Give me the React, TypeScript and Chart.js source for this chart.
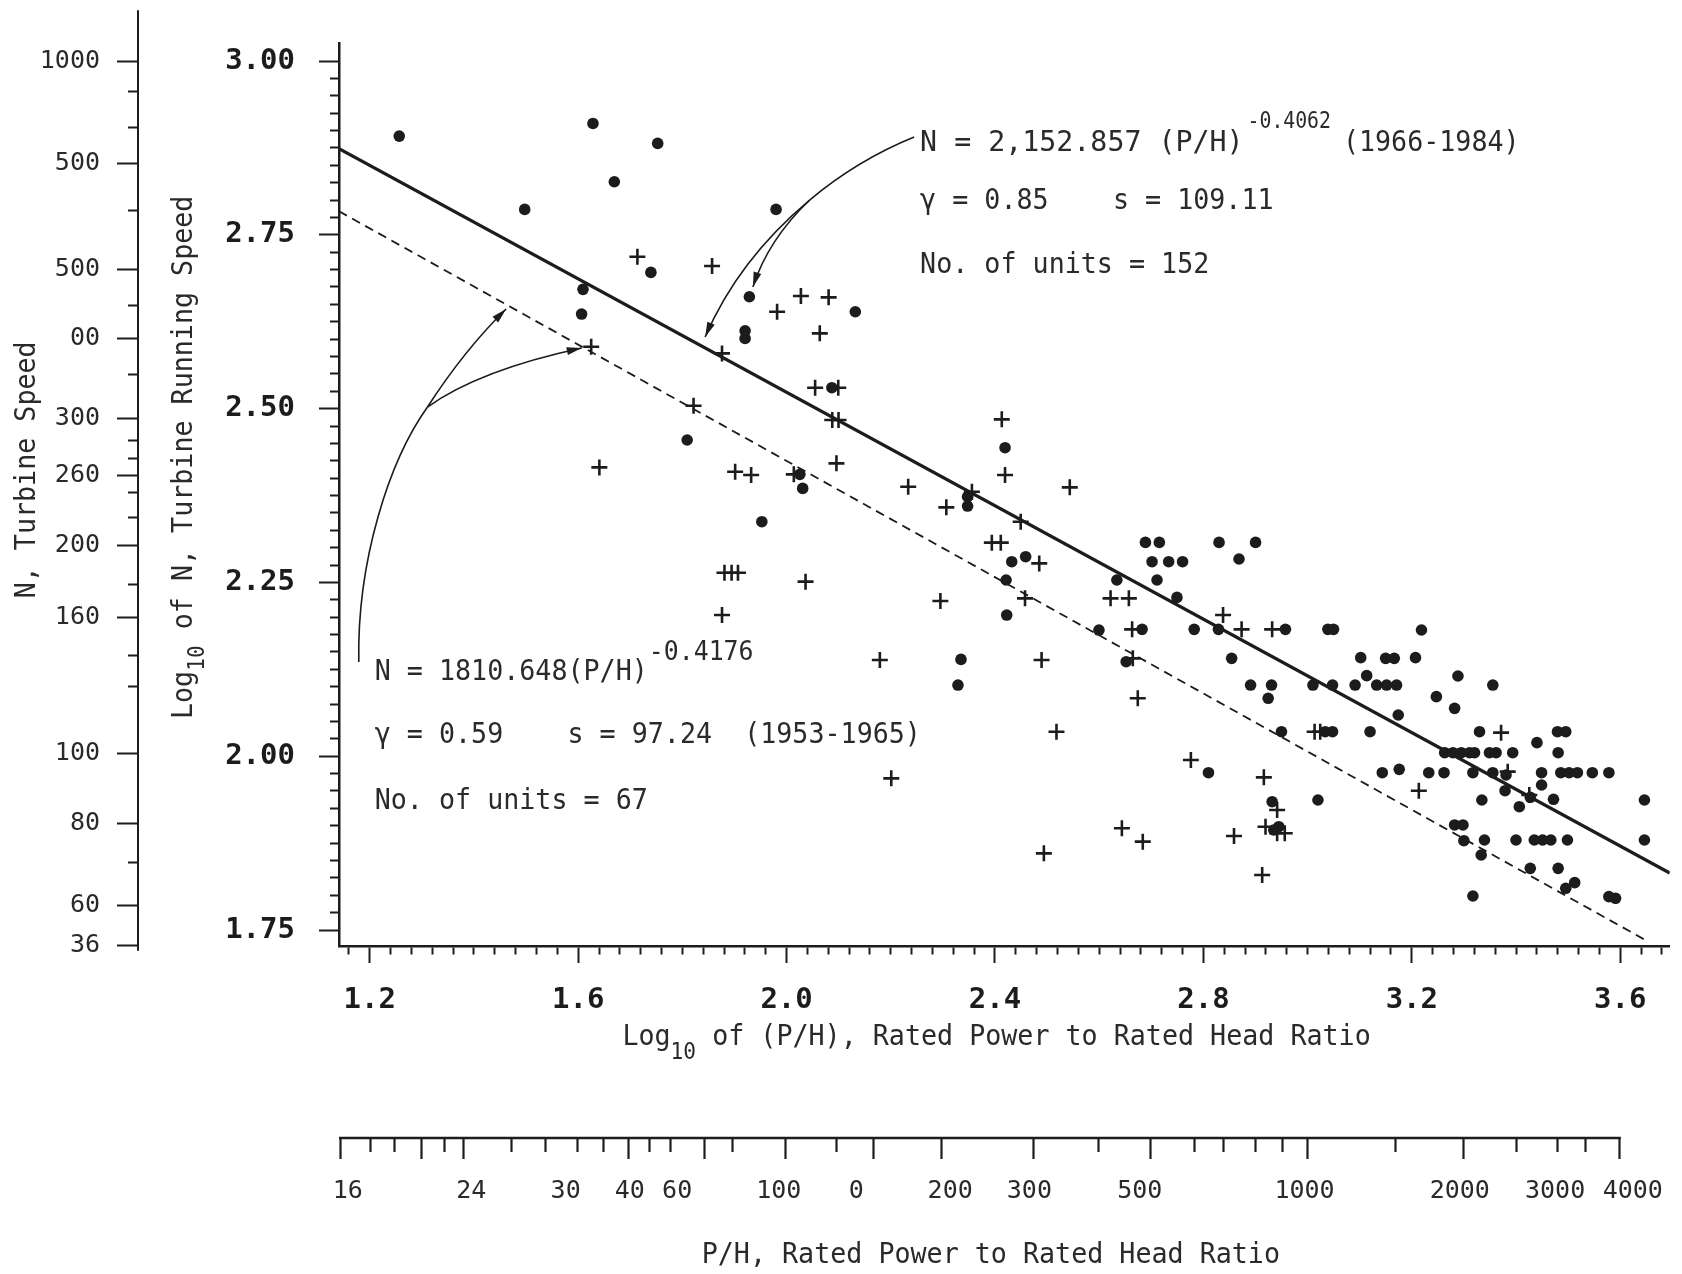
import React, { useEffect, useRef } from 'react';
import { Chart, registerables } from 'chart.js';

Chart.register(...registerables);

// ---------------- data (log10 P/H , log10 N) ----------------
const units1966: [number, number][] = [
  [1.2566, 2.8921], [1.6284, 2.9103], [1.7526, 2.8816], [1.6694, 2.8264], [1.4974, 2.7866],
  [1.9798, 2.7866], [1.7396, 2.6960], [1.6093, 2.6716], [1.6066, 2.6361], [1.9286, 2.6610],
  [1.9204, 2.6120], [1.9204, 2.6010], [2.1319, 2.6394], [2.0869, 2.5301], [1.8092, 2.4549],
  [2.0255, 2.4055], [2.0309, 2.3853], [1.9525, 2.3374],
  [2.4193, 2.4438], [2.3474, 2.3733], [2.3474, 2.3599], [2.4321, 2.2798], [2.4588, 2.2870],
  [2.4213, 2.2535], [2.4225, 2.2031], [2.3347, 2.1393], [2.3289, 2.1024], [2.6339, 2.2535],
  [2.5995, 2.1815], [2.6823, 2.1825], [2.6887, 2.3076], [2.7154, 2.3076], [2.7014, 2.2798],
  [2.7333, 2.2798], [2.7600, 2.2798], [2.7110, 2.2535], [2.7492, 2.2285], [2.8300, 2.3076],
  [2.9001, 2.3076], [2.8683, 2.2837], [2.7823, 2.1825], [2.8288, 2.1825], [2.9574, 2.1825],
  [2.8542, 2.1408], [2.8905, 2.1024], [2.9307, 2.1024], [2.9243, 2.0833], [2.9498, 2.0353],
  [2.8097, 1.9763], [2.9319, 1.9346], [2.9351, 1.8939], [2.9447, 1.8986], [3.0198, 1.9370],
  [3.0102, 2.1024], [3.0478, 2.1024], [3.0338, 2.0353], [3.0478, 2.0353], [3.0389, 2.1825],
  [3.0497, 2.1825], [2.6518, 2.1360],
  [3.2185, 2.1816], [3.1019, 2.1418], [3.1497, 2.1408], [3.1663, 2.1408], [3.2070, 2.1418],
  [3.0911, 2.1024], [3.1134, 2.1159], [3.1325, 2.1024], [3.1516, 2.1024], [3.1707, 2.1024],
  [3.2885, 2.1154], [3.3554, 2.1024], [3.2471, 2.0857], [3.2821, 2.0689], [3.1739, 2.0593],
  [3.1198, 2.0353], [3.3299, 2.0353], [3.4401, 2.0195], [3.4795, 2.0353], [3.4954, 2.0353],
  [3.4808, 2.0051], [3.2630, 2.0051], [3.2789, 2.0051], [3.2949, 2.0051], [3.3108, 2.0051],
  [3.3203, 2.0051], [3.3490, 2.0051], [3.3617, 2.0051], [3.3936, 2.0051], [3.1433, 1.9763],
  [3.1758, 1.9811], [3.2325, 1.9763], [3.2618, 1.9763], [3.3172, 1.9763], [3.3554, 1.9763],
  [3.3808, 1.9730], [3.4490, 1.9763], [3.4859, 1.9763], [3.5018, 1.9763], [3.5177, 1.9763],
  [3.5464, 1.9763], [3.5782, 1.9763], [3.4490, 1.9586], [3.3789, 1.9504], [3.4273, 1.9409],
  [3.3344, 1.9370], [3.4063, 1.9274], [3.4719, 1.9380], [3.6464, 1.9370], [3.6464, 1.8795],
  [3.2821, 1.9011], [3.2981, 1.9011], [3.2999, 1.8785], [3.3394, 1.8795], [3.3331, 1.8579],
  [3.3999, 1.8795], [3.4350, 1.8795], [3.4509, 1.8795], [3.4668, 1.8795], [3.4986, 1.8795],
  [3.4273, 1.8387], [3.4808, 1.8387], [3.5126, 1.8181], [3.4954, 1.8100], [3.3172, 1.7989],
  [3.5782, 1.7980], [3.5910, 1.7956],
];

const units1953: [number, number][] = [
  [1.7137, 2.7186], [1.8570, 2.7051], [2.0275, 2.6620], [2.0807, 2.6601], [1.9818, 2.6394],
  [2.0637, 2.6083], [1.6250, 2.5891], [1.8761, 2.5795], [2.0548, 2.5301], [2.0992, 2.5301],
  [1.8215, 2.5042], [2.0877, 2.4836], [2.0997, 2.4836],
  [2.0957, 2.4213], [1.6407, 2.4155], [1.9013, 2.4093], [1.9320, 2.4045], [2.0139, 2.4055],
  [1.8808, 2.2640], [1.8945, 2.2640], [1.9067, 2.2640], [2.0364, 2.2511], [1.8761, 2.2031],
  [2.1790, 2.1384],
  [2.4130, 2.4846], [2.4193, 2.4045], [2.5435, 2.3868], [2.2334, 2.3877], [2.3066, 2.3580],
  [2.3557, 2.3805], [2.4493, 2.3374], [2.3939, 2.3072], [2.4111, 2.3072], [2.4849, 2.2774],
  [2.2952, 2.2233], [2.4576, 2.2271], [2.6218, 2.2271], [2.6569, 2.2271], [2.8377, 2.2031],
  [2.8733, 2.1825], [2.9319, 2.1825], [2.6632, 2.1825], [2.4894, 2.1384], [2.6645, 2.1408],
  [2.6740, 2.0833], [2.5180, 2.0353], [2.7759, 1.9945], [2.2009, 1.9682], [2.9160, 1.9696],
  [2.9415, 1.9226], [2.9192, 1.8986], [2.9415, 1.8891], [2.9561, 1.8891], [2.6435, 1.8963],
  [2.6836, 1.8771], [2.8587, 1.8852], [2.4938, 1.8603], [2.9128, 1.8291], [3.0134, 2.0353],
  [3.0242, 2.0353],
  [3.3713, 2.0339], [3.3840, 1.9778], [3.2134, 1.9504], [3.4254, 1.9442],
];

// regression lines as drawn (end points)
const fit1966: [number, number][] = [[1.141, 2.874], [3.695, 1.832]];
const fit1953: [number, number][] = [[1.141, 2.784], [3.652, 1.734]];

// ---------------- axes ----------------
const X_MIN = 1.141, X_MAX = 3.695;
const Y_MIN = 1.727, Y_MAX = 3.026;
const xTickLabels = ['1.2', '1.6', '2.0', '2.4', '2.8', '3.2', '3.6'];
const yTickLabels = ['1.75', '2.00', '2.25', '2.50', '2.75', '3.00'];

// left "N, Turbine Speed" auxiliary axis (positions in log10 N)
const nAxisLabels = ['1000', '500', '500', '00', '300', '260', '200', '160', '100', '80', '60', '36'];
const nAxisLabelPos = [3.0, 2.8533, 2.7008, 2.6016, 2.4865, 2.4045, 2.3038, 2.2002, 2.0046, 1.9039, 1.7846, 1.7275];
const nAxisMinorPos = [2.9568, 2.9051, 2.7857, 2.649, 2.5498, 2.4548, 2.429, 2.38, 2.3441, 2.2477, 2.1456, 2.0996, 1.8478];
const nAxisSpan = [3.073, 1.72];

// bottom "P/H" auxiliary axis (positions in log10 P/H)
const phLabels = ['16', '24', '30', '40', '60', '100', '0', '200', '300', '500', '1000', '2000', '3000', '4000'];
const phLabelPos = [1.158, 1.395, 1.576, 1.699, 1.79, 1.985, 2.134, 2.314, 2.466, 2.678, 2.994, 3.292, 3.475, 3.624];
const phLongTickPos = [1.143, 1.299, 1.38, 1.697, 1.842, 1.998, 2.167, 2.298, 2.474, 2.698, 3.0, 3.299, 3.599];
const phMidTickPos = [1.202, 1.248, 1.343, 1.473, 1.538, 1.599, 1.649, 1.737, 1.777, 1.897, 2.096, 2.598, 2.782, 2.839, 2.9, 2.952, 3.168, 3.401, 3.479, 3.534];

// ---------------- annotations ----------------
const eq1966Anchor = [2.2563, 2.8821, 2.7986, 2.7066];
const eq1953Anchor = [1.2096, 2.1211, 2.0305, 1.9356];
const arrow1966Trunk = [[2.2449, 2.8907], [2.136, 2.8576], [2.0443, 2.8001]];
const arrow1966Heads = [
  [[2.0443, 2.8001], [1.9068, 2.7138], [1.8437, 2.603]],
  [[2.0443, 2.8001], [1.9641, 2.7425], [1.9354, 2.6749]],
];
const arrow1953Trunk = [[1.179, 2.1355], [1.1752, 2.2822], [1.2382, 2.4261], [1.3108, 2.5023]];
const arrow1953Heads = [
  [[1.3108, 2.5023], [1.3815, 2.5843], [1.4617, 2.6433]],
  [[1.3108, 2.5023], [1.4101, 2.5555], [1.6069, 2.5872]],
];

const INK = '#1c1c1c';
const TXT = '#2a2a2a';
const MONO = '"DejaVu Sans Mono", "Liberation Mono", monospace';
const SX = 0.92;

function subdivided(labels: string[], n: number, before: number, after: number) {
  const majors = labels.map(Number);
  const step = (majors[1] - majors[0]) / n;
  const out: any[] = [];
  for (let k = before; k >= 1; k--) out.push({ value: majors[0] - k * step, lbl: '', major: false });
  for (let i = 0; i < majors.length; i++) {
    out.push({ value: majors[i], lbl: labels[i], major: true });
    if (i < majors.length - 1) {
      for (let k = 1; k < n; k++) out.push({ value: majors[i] + k * step, lbl: '', major: false });
    }
  }
  for (let k = 1; k <= after; k++) out.push({ value: majors[majors.length - 1] + k * step, lbl: '', major: false });
  return out;
}

function nTicks() {
  const out: any[] = nAxisLabelPos.map((v, i) => ({ value: v, lbl: nAxisLabels[i] }));
  nAxisMinorPos.forEach((v) => out.push({ value: v, lbl: '' }));
  return out;
}

function phTicks() {
  const out: any[] = [];
  phLongTickPos.forEach((v) => out.push({ value: v, lbl: '', kind: 'long' }));
  phMidTickPos.forEach((v) => out.push({ value: v, lbl: '', kind: 'mid' }));
  phLabelPos.forEach((v, i) => out.push({ value: v, lbl: phLabels[i], kind: 'label' }));
  return out;
}

type Part = { t: string; size?: number; dy?: number; gap?: number; sx?: number };

function rich(ctx: CanvasRenderingContext2D, parts: Part[], px: number, py: number, align: string, rot: number) {
  ctx.save();
  ctx.fillStyle = TXT;
  ctx.textBaseline = 'middle';
  ctx.textAlign = 'left';
  const widths = parts.map((p) => {
    ctx.font = `${p.size || 29}px ${MONO}`;
    return ctx.measureText(p.t).width * (p.sx || SX) + (p.gap || 0);
  });
  const total = widths.reduce((a, b) => a + b, 0);
  ctx.translate(px, py);
  if (rot) ctx.rotate(rot);
  let x = align === 'center' ? -total / 2 : 0;
  parts.forEach((p, i) => {
    ctx.font = `${p.size || 29}px ${MONO}`;
    ctx.save();
    ctx.translate(x + (p.gap || 0), p.dy || 0);
    ctx.scale(p.sx || SX, 1);
    ctx.fillText(p.t, 0, 0);
    ctx.restore();
    x += widths[i];
  });
  ctx.restore();
}

const decorations = {
  id: 'decorations',
  afterDraw(chart: any) {
    const ctx: CanvasRenderingContext2D = chart.ctx;
    const xs = chart.scales.x, ys = chart.scales.y, yN = chart.scales.yN, ph = chart.scales.xPH;
    const P = (p: number[]) => [xs.getPixelForValue(p[0]), ys.getPixelForValue(p[1])];

    ctx.save();
    ctx.setLineDash([]);
    ctx.strokeStyle = INK;
    ctx.fillStyle = INK;
    // auxiliary axis lines
    ctx.lineWidth = 2.5;
    ctx.beginPath();
    ctx.moveTo(ph.getPixelForValue(phLongTickPos[0]) - 1, ph.top + 1);
    ctx.lineTo(ph.getPixelForValue(phLongTickPos[phLongTickPos.length - 1]) + 1, ph.top + 1);
    ctx.stroke();
    ctx.lineWidth = 2;
    ctx.beginPath();
    ctx.moveTo(yN.right - 1, ys.getPixelForValue(nAxisSpan[0]));
    ctx.lineTo(yN.right - 1, ys.getPixelForValue(nAxisSpan[1]));
    ctx.stroke();

    // arrows
    const head = (from: number[], tip: number[]) => {
      const a = Math.atan2(tip[1] - from[1], tip[0] - from[0]);
      const L = 15, W = 4;
      const c = Math.cos(a), s = Math.sin(a);
      ctx.beginPath();
      ctx.moveTo(tip[0], tip[1]);
      ctx.lineTo(tip[0] - L * c + W * s, tip[1] - L * s - W * c);
      ctx.lineTo(tip[0] - L * c - W * s, tip[1] - L * s + W * c);
      ctx.closePath();
      ctx.fill();
    };
    const arrow = (trunk: number[][], heads: number[][][]) => {
      ctx.lineWidth = 1.6;
      const t = trunk.map(P);
      ctx.beginPath();
      ctx.moveTo(t[0][0], t[0][1]);
      if (t.length === 3) ctx.quadraticCurveTo(t[1][0], t[1][1], t[2][0], t[2][1]);
      else ctx.bezierCurveTo(t[1][0], t[1][1], t[2][0], t[2][1], t[3][0], t[3][1]);
      ctx.stroke();
      heads.forEach((h) => {
        const q = h.map(P);
        ctx.beginPath();
        ctx.moveTo(q[0][0], q[0][1]);
        ctx.quadraticCurveTo(q[1][0], q[1][1], q[2][0], q[2][1]);
        ctx.stroke();
        head(q[1], q[2]);
      });
    };
    arrow(arrow1966Trunk, arrow1966Heads);
    arrow(arrow1953Trunk, arrow1953Heads);
    ctx.restore();

    // equation blocks
    const a1 = eq1966Anchor;
    const x1 = xs.getPixelForValue(a1[0]);
    rich(ctx, [
      { t: 'N = 2,152.857 (P/H)', sx: 0.975 },
      { t: '-0.4062', size: 23, sx: 0.86, dy: -21, gap: 4 },
      { t: '(1966-1984)', gap: 12 },
    ], x1, ys.getPixelForValue(a1[1]), 'left', 0);
    rich(ctx, [{ t: 'γ = 0.85    s = 109.11' }], x1, ys.getPixelForValue(a1[2]), 'left', 0);
    rich(ctx, [{ t: 'No. of units = 152' }], x1, ys.getPixelForValue(a1[3]), 'left', 0);

    const a2 = eq1953Anchor;
    const x2 = xs.getPixelForValue(a2[0]);
    rich(ctx, [{ t: 'N = 1810.648(P/H)' }, { t: '-0.4176', size: 27, dy: -19, gap: 1 }], x2, ys.getPixelForValue(a2[1]), 'left', 0);
    rich(ctx, [{ t: 'γ = 0.59    s = 97.24  (1953-1965)' }], x2, ys.getPixelForValue(a2[2]), 'left', 0);
    rich(ctx, [{ t: 'No. of units = 67' }], x2, ys.getPixelForValue(a2[3]), 'left', 0);

    // axis titles
    rich(ctx, [{ t: 'N, Turbine Speed' }], yN.left + 27, ys.getPixelForValue(2.412), 'center', -Math.PI / 2);
    rich(ctx, [{ t: 'Log' }, { t: '10', size: 23, dy: 14 }, { t: ' of N, Turbine Running Speed' }], ys.left + 45, ys.getPixelForValue(2.43), 'center', -Math.PI / 2);
    rich(ctx, [{ t: 'Log' }, { t: '10', size: 23, dy: 16 }, { t: ' of (P/H), Rated Power to Rated Head Ratio' }], xs.getPixelForValue(2.403), xs.top + 91, 'center', 0);
    rich(ctx, [{ t: 'P/H, Rated Power to Rated Head Ratio' }], ph.getPixelForValue(2.392), ph.top + 118, 'center', 0);
  },
};

const lbl = (_v: any, i: number, t: any[]) => (t[i] && t[i].lbl) || '';

export default function App() {
  const ref = useRef<HTMLCanvasElement | null>(null);

  useEffect(() => {
    if (!ref.current) return;
    const chart = new Chart(ref.current, {
      type: 'scatter',
      data: {
        datasets: [
          {
            label: '1966-1984',
            data: units1966.map(([x, y]) => ({ x, y })),
            pointStyle: 'circle',
            pointRadius: 5.8,
            pointHoverRadius: 5.8,
            pointBackgroundColor: INK,
            pointBorderColor: INK,
            pointBorderWidth: 0,
          },
          {
            label: '1953-1965',
            data: units1953.map(([x, y]) => ({ x, y })),
            pointStyle: 'cross',
            pointRadius: 8,
            pointHoverRadius: 8,
            pointBorderColor: INK,
            pointBorderWidth: 2.6,
          },
          {
            label: 'N = 2152.857 (P/H)^-0.4062',
            data: fit1966.map(([x, y]) => ({ x, y })),
            showLine: true,
            borderColor: INK,
            borderWidth: 3.2,
            pointRadius: 0,
          },
          {
            label: 'N = 1810.648 (P/H)^-0.4176',
            data: fit1953.map(([x, y]) => ({ x, y })),
            showLine: true,
            borderColor: INK,
            borderWidth: 1.8,
            borderDash: [9, 6],
            pointRadius: 0,
          },
        ] as any,
      },
      options: {
        animation: false,
        responsive: false,
        events: [],
        layout: { padding: { left: 0, right: 6, top: 43, bottom: 0 } },
        plugins: { legend: { display: false }, tooltip: { enabled: false } },
        scales: {
          x: {
            type: 'linear', position: 'bottom', weight: 0, min: X_MIN, max: X_MAX,
            afterBuildTicks: (s: any) => { s.ticks = subdivided(xTickLabels, 10, 1, 2); },
            afterFit: (s: any) => { s.height = 191; },
            border: { display: true, color: INK, width: 2.5 },
            grid: {
              display: true, drawOnChartArea: false, drawTicks: true, tickLength: 17, tickWidth: 2, tickColor: INK,
              tickBorderDash: (c: any) => (c.tick && c.tick.major ? [] : [7, 60]),
            },
            ticks: { autoSkip: false, maxRotation: 0, minRotation: 0, padding: 20, color: INK, font: { family: MONO, size: 29, weight: 'bold' }, callback: lbl },
          },
          xPH: {
            type: 'linear', axis: 'x', position: 'bottom', weight: 1, min: X_MIN, max: X_MAX,
            afterBuildTicks: (s: any) => { s.ticks = phTicks(); },
            afterFit: (s: any) => { s.height = 137; },
            border: { display: false },
            grid: {
              display: true, drawOnChartArea: false, drawTicks: true, tickLength: 22, tickWidth: 2.2,
              tickColor: (c: any) => (c.tick && c.tick.kind === 'label' ? 'rgba(0,0,0,0)' : INK),
              tickBorderDash: (c: any) => (c.tick && c.tick.kind === 'mid' ? [15, 60] : []),
            },
            ticks: { autoSkip: false, maxRotation: 0, minRotation: 0, padding: 17, color: TXT, font: { family: MONO, size: 25 }, callback: lbl },
          },
          y: {
            type: 'linear', position: 'left', weight: 0, min: Y_MIN, max: Y_MAX,
            afterBuildTicks: (s: any) => { s.ticks = subdivided(yTickLabels, 10, 0, 0); },
            afterFit: (s: any) => { s.width = 200; },
            border: { display: true, color: INK, width: 2.5 },
            grid: {
              display: true, drawOnChartArea: false, drawTicks: true, tickLength: 20, tickWidth: 2, tickColor: INK,
              tickBorderDash: (c: any) => (c.tick && c.tick.major ? [] : [0, 11, 9, 60]),
            },
            ticks: { autoSkip: false, padding: 24, color: INK, font: { family: MONO, size: 29, weight: 'bold' }, callback: lbl },
          },
          yN: {
            type: 'linear', axis: 'y', position: 'left', weight: 1, min: Y_MIN, max: Y_MAX,
            afterBuildTicks: (s: any) => { s.ticks = nTicks(); },
            afterFit: (s: any) => { s.width = 139; },
            border: { display: false },
            grid: {
              display: true, drawOnChartArea: false, drawTicks: true, tickLength: 22, tickWidth: 2, tickColor: INK,
              tickBorderDash: (c: any) => (c.tick && c.tick.lbl ? [] : [0, 11, 11, 60]),
            },
            ticks: { autoSkip: false, padding: 17, color: TXT, font: { family: MONO, size: 25 }, callback: lbl },
          },
        } as any,
      },
      plugins: [decorations],
    });
    return () => chart.destroy();
  }, []);

  return (
    <div style={{ position: 'fixed', left: 0, top: 0, width: 1682, height: 1274, background: '#ffffff' }}>
      <canvas ref={ref} width={1682} height={1274} style={{ width: 1682, height: 1274, display: 'block' }} />
    </div>
  );
}
